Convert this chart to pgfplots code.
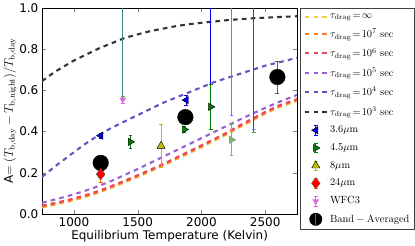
\documentclass[border=0pt]{standalone}
\usepackage[no-math]{fontspec}
\setmainfont{DejaVu Sans}
\usepackage{pgfplots}
\pgfplotsset{compat=1.18}
\definecolor{cyel}{HTML}{F2CF4A}
\definecolor{corg}{HTML}{FF7F2A}
\definecolor{cred}{HTML}{E8485E}
\definecolor{cpur}{HTML}{9A60D6}
\definecolor{cblp}{HTML}{5E56BE}
\definecolor{cblk}{HTML}{333333}
\definecolor{mpblue}{rgb}{0,0,1}
\definecolor{mpgreen}{rgb}{0,0.5,0}
\definecolor{mpyellow}{rgb}{0.75,0.75,0}
\definecolor{mpmag}{rgb}{0.75,0,0.75}
\definecolor{tealbar}{HTML}{3F8585}
\pgfplotsset{
  ebleg/.style={legend image code/.code={
      \draw[color=#1,line width=0.6pt] (0.375cm,-4.5bp) -- (0.375cm,4.5bp)
        (0.375cm-1.8bp,-4.5bp) -- (0.375cm+1.8bp,-4.5bp)
        (0.375cm-1.8bp,4.5bp) -- (0.375cm+1.8bp,4.5bp);
      \draw[mark repeat=2,mark phase=2,##1] plot coordinates {(0cm,0cm) (0.375cm,0cm) (0.75cm,0cm)};}},
  circleg/.style={legend image code/.code={
      \draw[mark repeat=2,mark phase=2,##1, mark size=6bp] plot coordinates {(0cm,0cm) (0.375cm,0cm) (0.75cm,0cm)};
      \draw[color=black!60,line width=0.6pt] (0.375cm,-5bp) -- (0.375cm,5bp);}},
  lineleg/.style={legend image code/.code={
      \draw[##1] (0cm,0cm) -- (0.75cm,0cm);}},
  curv/.style={line width=2pt, dash pattern=on 4.5pt off 4pt, mark=none, lineleg},
}
\begin{document}
\begin{tikzpicture}
\begin{axis}[
  scale only axis, width=244bp, height=197bp,
  xmin=750, xmax=2750, ymin=0, ymax=1,
  xtick={1000,1500,2000,2500}, ytick={0,0.2,0.4,0.6,0.8,1.0},
  yticklabel style={/pgf/number format/.cd, fixed, fixed zerofill, precision=1},
  xticklabel style={/pgf/number format/.cd, set thousands separator={}},
  /pgf/number format/assume math mode=true,
  tick label style={font=\fontsize{11.5}{13}\selectfont},
  label style={font=\fontsize{11.5}{13}\selectfont},
  xlabel={Equilibrium Temperature (Kelvin)},
  ylabel={A$=(T_{\rm b,day}-T_{\rm b,night})/T_{\rm b,day}$},
  xlabel style={yshift=3bp},
  ylabel style={yshift=-4bp},
  tick align=inside, major tick length=4bp,
  axis line style={line width=0.7pt},
  legend cell align=left,
  legend style={at={(rel axis cs:1.012,1)}, anchor=north west,
    font=\fontsize{10}{12}\selectfont, draw=black!75, line width=0.6pt,
    row sep=5bp, inner xsep=3bp, inner ysep=3bp},
]
% model curves
\addplot[color=cyel, curv] table {
750 0.031
850 0.044
1000 0.066
1100 0.084
1200 0.104
1300 0.128
1400 0.153
1500 0.179
1600 0.206
1700 0.234
1800 0.264
1900 0.294
2000 0.324
2100 0.355
2200 0.386
2300 0.421
2400 0.454
2500 0.486
2600 0.516
2750 0.549
};
\addlegendentry{$\tau_{\rm drag}\!=\!\infty$}
\addplot[color=corg, curv] table {
750 0.035
850 0.048
1000 0.07
1100 0.088
1200 0.108
1300 0.132
1400 0.157
1500 0.183
1600 0.21
1700 0.238
1800 0.268
1900 0.298
2000 0.328
2100 0.359
2200 0.39
2300 0.425
2400 0.458
2500 0.49
2600 0.52
2750 0.553
};
\addlegendentry{$\tau_{\rm drag}\!=\!10^7\ \mathrm{sec}$}
\addplot[color=cred, curv] table {
750 0.04
850 0.053
1000 0.075
1100 0.093
1200 0.113
1300 0.137
1400 0.162
1500 0.188
1600 0.215
1700 0.243
1800 0.273
1900 0.303
2000 0.333
2100 0.364
2200 0.395
2300 0.43
2400 0.463
2500 0.495
2600 0.525
2750 0.558
};
\addlegendentry{$\tau_{\rm drag}\!=\!10^6\ \mathrm{sec}$}
\addplot[color=cpur, curv] table {
750 0.054
850 0.07
1000 0.095
1100 0.115
1200 0.137
1300 0.162
1400 0.19
1500 0.218
1600 0.248
1700 0.278
1800 0.308
1900 0.338
2000 0.368
2100 0.398
2200 0.428
2300 0.458
2400 0.487
2500 0.515
2600 0.542
2750 0.578
};
\addlegendentry{$\tau_{\rm drag}\!=\!10^5\ \mathrm{sec}$}
\addplot[color=cblp, curv] table {
750 0.18
850 0.23
1000 0.30
1100 0.345
1200 0.385
1300 0.42
1400 0.45
1500 0.48
1600 0.51
1700 0.54
1800 0.565
1900 0.59
2000 0.615
2100 0.64
2200 0.66
2300 0.68
2400 0.70
2500 0.72
2600 0.735
2750 0.758
};
\addlegendentry{$\tau_{\rm drag}\!=\!10^4\ \mathrm{sec}$}
\addplot[color=cblk, curv] table {
750 0.645
850 0.69
1000 0.745
1100 0.775
1200 0.805
1300 0.83
1400 0.855
1500 0.872
1600 0.888
1700 0.9
1800 0.912
1900 0.921
2000 0.928
2200 0.941
2400 0.95
2600 0.956
2750 0.96
};
\addlegendentry{$\tau_{\rm drag}\!=\!10^3\ \mathrm{sec}$}
% off-chart error bars
\addplot[color=tealbar, line width=0.9pt, forget plot] coordinates {(1383,0.56) (1383,1.05)};
\addplot[only marks, mark=-, mark size=1.8bp, color=mpgreen!70, forget plot] coordinates {(1383,0.573)};
\addplot[only marks, mark=-, mark size=1.8bp, color=mpblue!45, forget plot] coordinates {(1383,0.558)};
\addplot[color=mpblue, line width=0.9pt, forget plot] coordinates {(2073,0.63) (2073,1.05)};
\addplot[color=mpblue!55, line width=0.9pt, forget plot] coordinates {(2235,0.48) (2235,1.05)};
\addplot[only marks, mark=-, mark size=1.8bp, color=mpblue!55, forget plot] coordinates {(2235,0.48)};
\addplot[color=mpgreen, line width=0.9pt, forget plot] coordinates {(2410,0.398) (2410,1.05)};
\addplot[only marks, mark=-, mark size=1.8bp, color=mpblue!50, forget plot] coordinates {(2410,0.41)};
\addplot[only marks, mark=-, mark size=1.8bp, color=mpgreen!70, forget plot] coordinates {(2410,0.398)};
% light 4.5 point
\addplot[forget plot, only marks, mark=triangle*, mark size=4bp,
  mark options={rotate=-90, fill=mpgreen!55, draw=black!45, line width=0.4pt},
  error bars/.cd, y dir=both, y explicit,
  error bar style={color=mpgreen!55, line width=0.9pt},
  error mark options={rotate=90, mark size=1.8bp, color=mpgreen!55}]
  coordinates {(2235,0.36) +- (0,0.075)};
% 3.6 um
\addplot[only marks, mark=triangle*, mark size=4bp,
  mark options={rotate=90, fill=mpblue, draw=black, line width=0.4pt},
  ebleg=mpblue,
  error bars/.cd, y dir=both, y explicit,
  error bar style={color=mpblue, line width=0.9pt},
  error mark options={rotate=90, mark size=1.8bp, color=mpblue}]
  coordinates {(1210,0.38) +- (0,0.012) (1880,0.553) +- (0,0.025)};
\addlegendentry{$3.6\mu\mathrm{m}$}
% 4.5 um
\addplot[only marks, mark=triangle*, mark size=4bp,
  mark options={rotate=-90, fill=mpgreen, draw=black, line width=0.4pt},
  ebleg=mpgreen,
  error bars/.cd, y dir=both, y explicit,
  error bar style={color=mpgreen, line width=0.9pt},
  error mark options={rotate=90, mark size=1.8bp, color=mpgreen}]
  coordinates {(1210,0.215) +- (0,0.02) (1443,0.35) +- (0,0.03) (1866,0.41) +- (0,0.015) (2073,0.52) +- (0,0.11)};
\addlegendentry{$4.5\mu\mathrm{m}$}
% 8 um
\addplot[only marks, mark=triangle*, mark size=4.5bp,
  mark options={fill=mpyellow, draw=black, line width=0.4pt},
  ebleg=mpyellow,
  error bars/.cd, y dir=both, y explicit,
  error bar style={color=mpyellow, line width=0.9pt},
  error mark options={rotate=90, mark size=1.8bp, color=mpyellow}]
  coordinates {(1683,0.33) +- (0,0.104)};
\addlegendentry{$8\mu\mathrm{m}$}
% 24 um
\addplot[only marks, mark=diamond*, mark size=5.5bp,
  mark options={fill=red, draw=black!60, line width=0.3pt},
  ebleg=orange,
  error bars/.cd, y dir=both, y explicit,
  error bar style={color=orange!80!red, line width=0.9pt},
  error mark options={rotate=90, mark size=1.8bp, color=orange!80!red}]
  coordinates {(1210,0.193) +- (0,0.04)};
\addlegendentry{$24\mu\mathrm{m}$}
% WFC3
\addplot[only marks, mark=triangle*, mark size=3.5bp,
  mark options={rotate=180, fill=mpmag!60, draw=mpmag!40, line width=0.3pt},
  ebleg=mpmag!60,
  error bars/.cd, y dir=minus, y explicit,
  error bar style={color=mpmag!60, line width=0.9pt},
  error mark options={rotate=90, mark size=1.8bp, color=mpmag!60}]
  coordinates {(1383,0.555) -= (0,0.015)};
\addlegendentry{$\mathrm{WFC3}$}
% band averaged
\addplot[only marks, mark=*, mark size=7.5bp,
  mark options={fill=black, draw=black, line width=0.3pt},
  circleg,
  error bars/.cd, y dir=both, y explicit,
  error bar style={color=black!65, line width=0.9pt},
  error mark options={rotate=90, mark size=1.8bp, color=black!65}]
  coordinates {(1210,0.248) +- (0,0.02) (1874,0.47) +- (0,0.01) (2595,0.665) +- (0,0.078)};
\addlegendentry{$\mathrm{Band}-\mathrm{Averaged}$}
% diamond drawn above the circle, as in the reference
\addplot[forget plot, only marks, mark=diamond*, mark size=5.5bp,
  mark options={fill=red, draw=black!60, line width=0.3pt}]
  coordinates {(1210,0.193)};
\end{axis}
\end{tikzpicture}
\end{document}
